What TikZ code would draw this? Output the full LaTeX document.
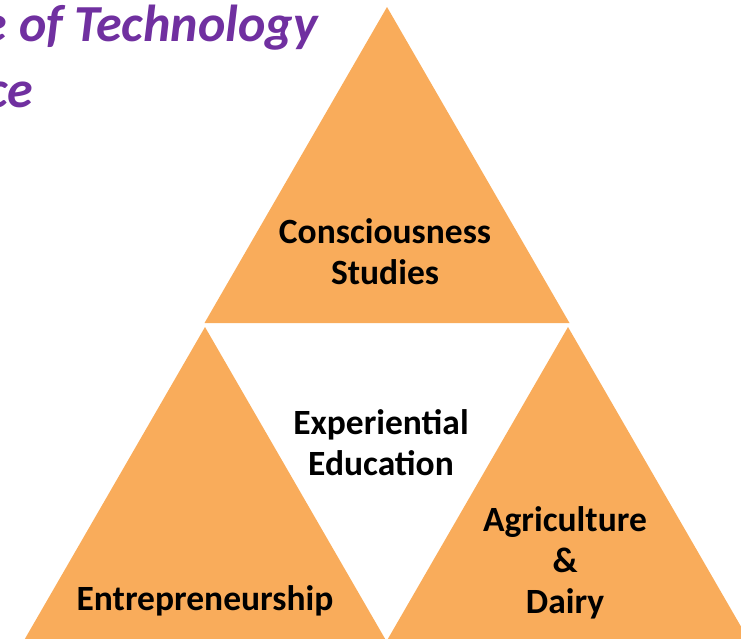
\documentclass[tikz,border=0pt]{standalone}
\usepackage{fontspec}
\setmainfont{Carlito}
\definecolor{pyrorange}{HTML}{F9AC5B}
\definecolor{titlepurple}{HTML}{7030A0}

\begin{document}
\begin{tikzpicture}[x=1pt,y=-1pt,
    label/.style={align=center,inner sep=0pt,font=\bfseries\fontsize{35.5}{41}\selectfont},
    heading/.style={inner sep=0pt,anchor=base east,text=titlepurple,font=\bfseries\itshape\fontsize{52}{62}\selectfont}]
	\useasboundingbox (0,0) rectangle (741,638);
	\clip (0,0) rectangle (741,638);
	% title, cut off at the left edge
	\node[heading] (title1) at (318,41) {e of Technology};
	\node[heading] (title2) at (33,107) {ce};
	% the three triangles
	\foreach \ax/\ay in {387/7, 205/327, 568/327}
		\fill[pyrorange] (\ax,\ay) -- ++(182.5,316) -- ++(-365,0) -- cycle;
	\node[label] (top) at (385,252) {Consciousness\\Studies};
	\node[label] (mid) at (381,443) {Experiential\\Education};
	\node[label] (left) at (205,601) {Entrepreneurship};
	\node[label] (right) at (565,563) {Agriculture\\\&\\Dairy};
\end{tikzpicture}
\end{document}
